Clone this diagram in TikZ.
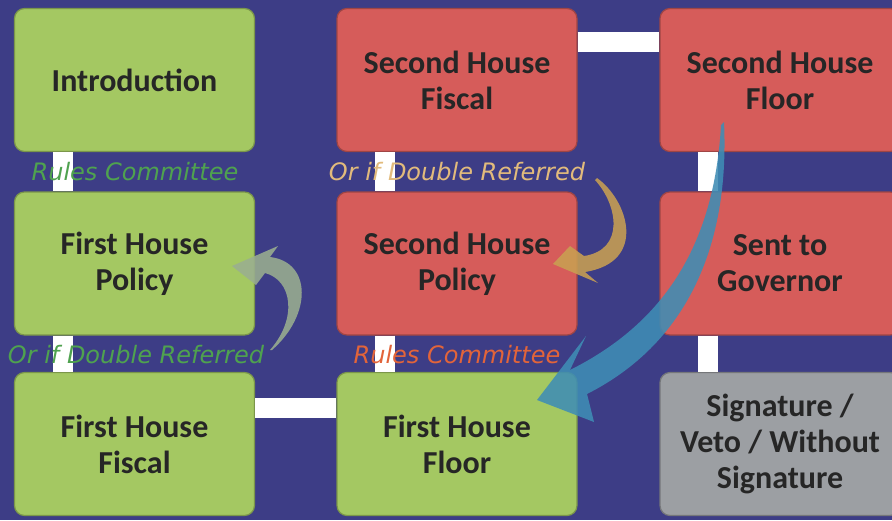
\documentclass[tikz,border=0pt]{standalone}
\usepackage{fontspec}
\setmainfont{Carlito}
\newfontfamily\notefont{DejaVu Sans}
\usetikzlibrary{positioning}

\definecolor{bgblue}{HTML}{3D3D86}
\definecolor{boxgreen}{HTML}{A4C862}
\definecolor{boxred}{HTML}{D65C5A}
\definecolor{boxgray}{HTML}{9C9FA3}
\definecolor{textdark}{HTML}{262626}
\definecolor{notegreen}{HTML}{4FA24F}
\definecolor{notetan}{HTML}{E2BB7C}
\definecolor{noteorange}{HTML}{E2643A}
\definecolor{arrowsage}{HTML}{9AAE90}
\definecolor{arrowgold}{HTML}{C9A052}
\definecolor{arrowblue}{HTML}{3F8DB5}

\begin{document}
\begin{tikzpicture}
    [x=1pt,y=-1pt,
     every node/.style={align=center, text=textdark, font=\bfseries\fontsize{32}{36}\selectfont},
     stage/.style={rounded corners=10pt, minimum width=240pt, minimum height=143pt, inner sep=0pt, line width=1.2pt},
     first/.style={stage, fill=boxgreen, draw=boxgreen!75!black},
     second/.style={stage, fill=boxred, draw=boxred!75!black},
     final/.style={stage, fill=boxgray, draw=boxgray!75!black},
     bar/.style={white, line width=20pt},
     note/.style={font=\notefont\itshape\fontsize{24}{28}\selectfont},
     curvy/.style={fill opacity=.88}]
  \fill[bgblue] (0,0) rectangle (892,520);
  \useasboundingbox (0,0) rectangle (892,520);
  \clip (0,0) rectangle (892,520);

  \node[first] (intro) at (134.5,80) {Introduction};
  \node[first] (fhpolicy) at (134.5,263.5) {First House\\Policy};
  \node[first] (fhfiscal) at (134.5,444) {First House\\Fiscal};
  \node[second] (shfiscal) at (457,80) {Second House\\Fiscal};
  \node[second] (shpolicy) at (457,263.5) {Second House\\Policy};
  \node[first] (fhfloor) at (457,444) {First House\\Floor};
  \node[second] (shfloor) at (780,80) {Second House\\Floor};
  \node[second] (governor) at (780,263.5) {Sent to\\Governor};
  \node[final] (signature) at (780,444) {Signature /\\Veto / Without\\Signature};

  \foreach \from/\to in {intro/fhpolicy, fhpolicy/fhfiscal, shfiscal/shpolicy, shpolicy/fhfloor, shfloor/governor, governor/signature}
    \draw[bar] ([xshift=-72pt]\from.south) -- ([xshift=-72pt]\to.north);
  \draw[bar] ([yshift=36pt]fhfiscal.east) -- ([yshift=36pt]fhfloor.west);
  \draw[bar] ([yshift=38pt]shfiscal.east) -- ([yshift=38pt]shfloor.west);

  \node[note, text=notegreen] (rules1) at (135,172) {Rules Committee};
  \node[note, text=notetan] (double2) at (457,172) {Or if Double Referred};
  \node[note, text=notegreen] (double1) at (136,355) {Or if Double Referred};
  \node[note, text=noteorange] (rules2) at (457,355) {Rules Committee};

  % curved arrows
  \coordinate (sagetip) at (232,266);
  \coordinate (goldtip) at (553,264);
  \coordinate (bluetip) at (537,400);
  \fill[arrowsage, curvy] (272,350) .. controls (312,315) and (312,262) .. (270,257)
    -- (278,246) -- (sagetip) -- (256,285) -- (265,273)
    .. controls (292,280) and (298,318) .. (270,350) -- cycle;
  \fill[arrowgold, curvy] (597,178) .. controls (628,200) and (648,262) .. (585,272)
    -- (598,283) -- (goldtip) -- (570,246) -- (584,256)
    .. controls (625,250) and (618,205) .. (595,180) -- cycle;
  \fill[arrowblue, curvy] (724,122) .. controls (730,250) and (684,345) .. (587,394)
    -- (594,422) -- (bluetip) -- (586,336) -- (570,370)
    .. controls (660,325) and (714,250) .. (721,125) -- cycle;
\end{tikzpicture}
\end{document}
